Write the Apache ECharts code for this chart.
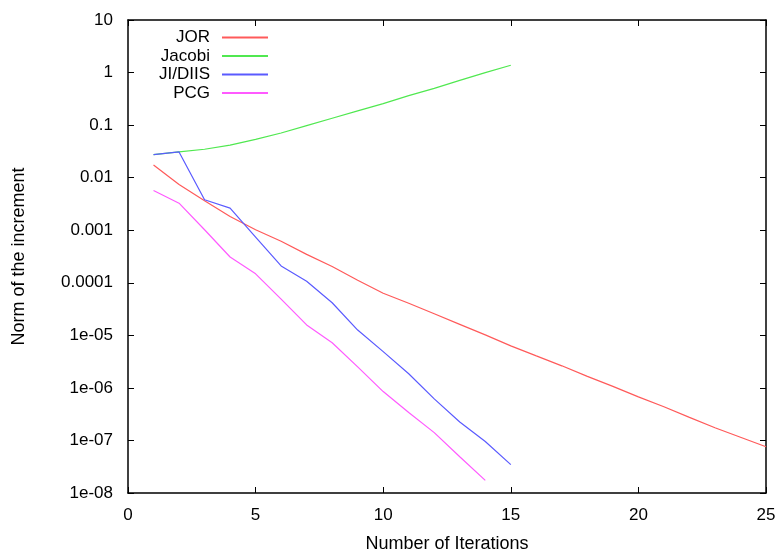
<!DOCTYPE html>
<html>
<head>
<meta charset="utf-8">
<script src="https://cdn.jsdelivr.net/npm/echarts@6/dist/echarts.min.js"></script>
<style>
  html, body { margin: 0; padding: 0; background: #fff; }
  #chart { width: 783px; height: 553px; }
</style>
</head>
<body>
<div id="chart"></div>
<script>
// iterations and norm of the increment
const xTicks = [0, 5, 10, 15, 20, 25];
const jorIter = [1, 2, 3, 4, 5, 6, 7, 8, 9, 10, 11, 12, 13, 14, 15, 16, 17, 18, 19, 20, 21, 22, 23, 24, 25];
const jorNorm = [0.0174, 0.00741, 0.00363, 0.00182, 0.00102, 0.000617, 0.000347, 0.000204, 0.000112, 6.31e-5,
  4.07e-5, 2.57e-5, 1.62e-5, 1.02e-5, 6.31e-6, 4.07e-6, 2.63e-6, 1.66e-6, 1.07e-6, 6.76e-7,
  4.37e-7, 2.75e-7, 1.74e-7, 1.15e-7, 7.59e-8];
const jacobiIter = [1, 2, 3, 4, 5, 6, 7, 8, 9, 10, 11, 12, 13, 14, 15];
const jacobiNorm = [0.0275, 0.0309, 0.0347, 0.0417, 0.0537, 0.0708, 0.0977, 0.135, 0.186, 0.257,
  0.363, 0.501, 0.708, 1.0, 1.38];
const diisIter = [1, 2, 3, 4, 5, 6, 7, 8, 9, 10, 11, 12, 13, 14, 15];
const diisNorm = [0.0275, 0.0309, 0.0038, 0.00263, 0.000741, 0.000209, 0.000107, 4.17e-5, 1.26e-5, 4.9e-6,
  1.86e-6, 6.17e-7, 2.24e-7, 9.55e-8, 3.47e-8];
const pcgIter = [1, 2, 3, 4, 5, 6, 7, 8, 9, 10, 11, 12, 13, 14];
const pcgNorm = [0.00569, 0.00327, 0.00102, 0.000309, 0.000148, 4.9e-5, 1.58e-5, 7.24e-6, 2.51e-6, 8.51e-7,
  3.39e-7, 1.41e-7, 4.9e-8, 1.74e-8];

const seriesNames = ["JOR", "Jacobi", "JI/DIIS", "PCG"];
const colors = ["#ff5a5a", "#50e850", "#5a5aff", "#ff5aff"];

function pairs(xs, ys) {
  return xs.map((x, i) => [x, ys[i]]);
}

function yLabel(v) {
  const e = Math.round(Math.log10(v));
  if (e >= 0) return String(Math.pow(10, e));
  if (e >= -4) return (Math.pow(10, e)).toFixed(-e);
  return "1e-" + String(-e).padStart(2, "0");
}

const font = "Liberation Sans, Arial, sans-serif";
const chart = echarts.init(document.getElementById("chart"));

const axisLine = { show: true, onZero: false, lineStyle: { color: "#000", width: 1.5 } };
const tick = { show: true, inside: true, length: 6, lineStyle: { color: "#000", width: 1 } };

const option = {
  animation: false,
  color: colors,
  grid: { left: 128, right: 17, top: 20, bottom: 60, containLabel: false, outerBoundsMode: "none" },
  legend: seriesNames.map((name, i) => ({
    data: [name],
    right: 510,
    top: 24 + i * 18.5,
    align: "right",
    icon: "rect",
    itemWidth: 46,
    itemHeight: 2,
    textStyle: { fontFamily: font, fontSize: 17, color: "#000", padding: [0, 7, 0, 0] },
    selectedMode: false
  })),
  xAxis: [
    {
      type: "value", min: 0, max: 25, interval: 5,
      name: "Number of Iterations", nameLocation: "middle", nameGap: 42,
      nameTextStyle: { fontFamily: font, fontSize: 18, color: "#000" },
      axisLine: axisLine, axisTick: tick,
      axisLabel: { fontFamily: font, fontSize: 17, color: "#000", margin: 14 },
      splitLine: { show: false }
    },
    {
      type: "value", min: 0, max: 25, interval: 5, position: "top",
      axisLine: axisLine, axisTick: tick, axisLabel: { show: false }, splitLine: { show: false }
    }
  ],
  yAxis: [
    {
      type: "log", logBase: 10, min: 1e-8, max: 10,
      name: "Norm of the increment", nameLocation: "middle", nameGap: 100,
      nameTextStyle: { fontFamily: font, fontSize: 18, color: "#000" },
      axisLine: axisLine, axisTick: tick,
      axisLabel: { fontFamily: font, fontSize: 17, color: "#000", margin: 15, formatter: yLabel },
      splitLine: { show: false }
    },
    {
      type: "log", logBase: 10, min: 1e-8, max: 10, position: "right",
      axisLine: axisLine, axisTick: tick, axisLabel: { show: false }, splitLine: { show: false }
    }
  ],
  series: [
    { name: "JOR", type: "line", data: pairs(jorIter, jorNorm) },
    { name: "Jacobi", type: "line", data: pairs(jacobiIter, jacobiNorm) },
    { name: "JI/DIIS", type: "line", data: pairs(diisIter, diisNorm) },
    { name: "PCG", type: "line", data: pairs(pcgIter, pcgNorm) }
  ].map((s, i) => Object.assign(s, {
    symbol: "none", showSymbol: false,
    lineStyle: { width: 1.2, color: colors[i] },
    itemStyle: { color: colors[i] }
  }))
};
chart.setOption(option);
</script>
</body>
</html>
